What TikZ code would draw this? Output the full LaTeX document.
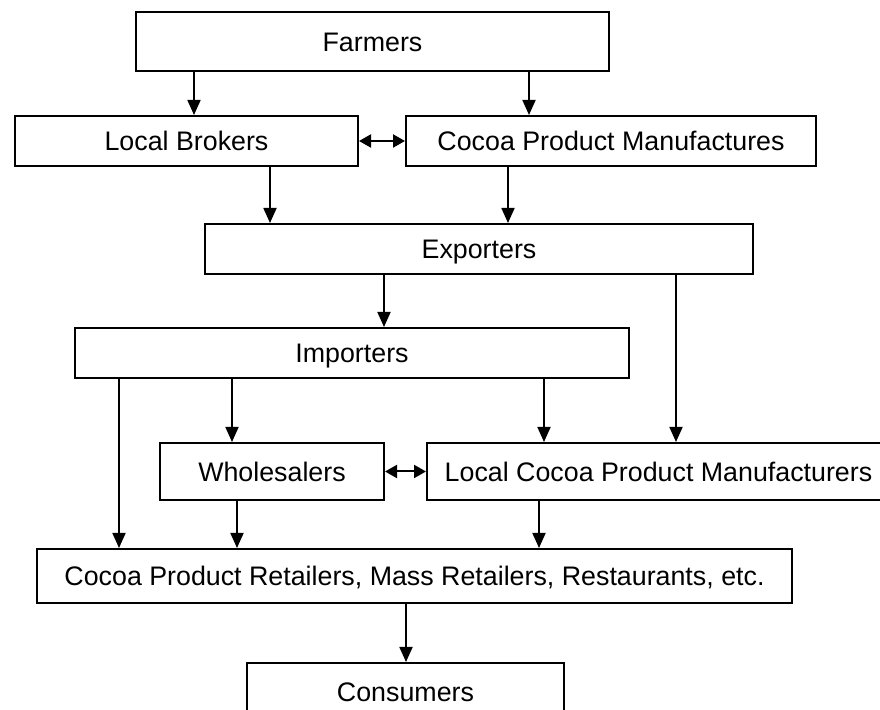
\documentclass[tikz,border=0pt]{standalone}
\usepackage{fontspec}
\setmainfont{Liberation Sans}
\usetikzlibrary{arrows.meta}

\begin{document}
\begin{tikzpicture}[x=0.5pt,y=-0.5pt,
    box/.style={draw=black,line width=1pt,inner sep=0pt,
        text height=1.1em,text depth=0.1em,font=\fontsize{13.4}{16}\selectfont},
    flow/.style={line width=0.9pt,-{Triangle[length=7.5pt,width=6.5pt]}},
    both/.style={line width=1pt,{Triangle[length=6pt,width=6.5pt]}-{Triangle[length=6pt,width=6.5pt]}}]

\useasboundingbox (0,0) rectangle (880,710);
\clip (0,0) rectangle (880,710);

	% chain members
	\node[box,minimum width=236.5pt,minimum height=29.5pt] (farmers) at (372.5,41.5) {Farmers};
	\node[box,minimum width=171.5pt,minimum height=25pt] (brokers) at (186.5,141) {Local Brokers};
	\node[box,minimum width=205pt,minimum height=25pt] (cpm) at (611,141) {Cocoa Product Manufactures};
	\node[box,minimum width=274pt,minimum height=25pt] (exporters) at (479,249) {Exporters};
	\node[box,minimum width=277pt,minimum height=25pt] (importers) at (352,353) {Importers};
	\node[box,minimum width=112pt,minimum height=28.5pt] (wholesalers) at (272,471.5) {Wholesalers};
	\node[box,minimum width=231.5pt,minimum height=28.5pt] (lcpm) at (658.5,471.5) {Local Cocoa Product Manufacturers};
	\node[box,minimum width=377.5pt,minimum height=27pt] (retailers) at (414.5,576) {Cocoa Product Retailers, Mass Retailers, Restaurants, etc.};
	\node[box,minimum width=158.5pt,minimum height=28.5pt] (consumers) at (405.5,691.5) {Consumers};

	% flows
	\draw[flow] (194,0 |- farmers.south) -- (194,0 |- brokers.north);
	\draw[flow] (529,0 |- farmers.south) -- (529,0 |- cpm.north);
	\draw[both] (brokers.east) -- (cpm.west);
	\draw[flow] (270,0 |- brokers.south) -- (270,0 |- exporters.north);
	\draw[flow] (508,0 |- cpm.south) -- (508,0 |- exporters.north);
	\draw[flow] (384,0 |- exporters.south) -- (384,0 |- importers.north);
	\draw[flow] (676,0 |- exporters.south) -- (676,0 |- lcpm.north);
	\draw[flow] (119,0 |- importers.south) -- (119,0 |- retailers.north);
	\draw[flow] (232,0 |- importers.south) -- (232,0 |- wholesalers.north);
	\draw[flow] (544,0 |- importers.south) -- (544,0 |- lcpm.north);
	\draw[both] (wholesalers.east) -- (lcpm.west);
	\draw[flow] (237,0 |- wholesalers.south) -- (237,0 |- retailers.north);
	\draw[flow] (539,0 |- lcpm.south) -- (539,0 |- retailers.north);
	\draw[flow] (406,0 |- retailers.south) -- (406,0 |- consumers.north);

\end{tikzpicture}
\end{document}
